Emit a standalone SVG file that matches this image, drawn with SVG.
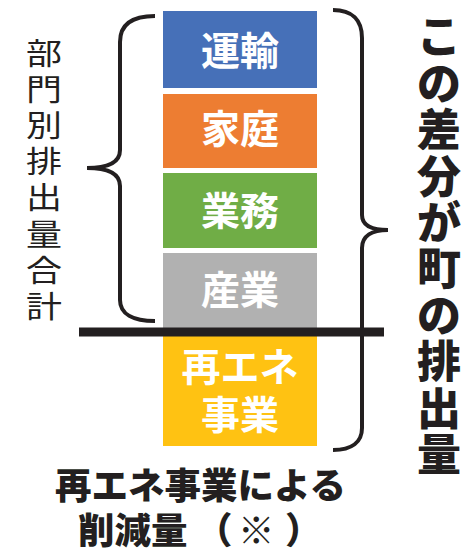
<svg xmlns="http://www.w3.org/2000/svg" width="475" height="554" viewBox="0 0 475 554">
<style>
.lbl{font-family:"Noto Sans CJK JP","Noto Sans",sans-serif;font-weight:bold;font-size:39px;fill:#fff;text-anchor:middle}
.vr{font-family:"Noto Sans CJK JP","Noto Sans",sans-serif;font-weight:900;font-size:44px;fill:#231F20;text-anchor:middle}
.vl{font-family:"Noto Sans CJK JP","Noto Sans",sans-serif;font-weight:normal;font-size:30px;fill:#231F20;text-anchor:middle}
.bt{font-family:"Noto Sans CJK JP","Noto Sans",sans-serif;font-weight:900;font-size:36.5px;fill:#231F20}
.brace{fill:none;stroke:#231F20;stroke-width:4;stroke-linecap:butt}
</style>
<rect width="475" height="554" fill="#fff"/>
<g id="transport"><rect x="163" y="11" width="154" height="77" fill="#4670B8"/><text class="lbl" x="240" y="65">運輸</text></g>
<g id="household"><rect x="163" y="94" width="154" height="74" fill="#ED7D32"/><text class="lbl" x="240" y="142.5">家庭</text></g>
<g id="business"><rect x="163" y="173" width="154" height="75" fill="#70AD46"/><text class="lbl" x="240" y="224.5">業務</text></g>
<g id="industry"><rect x="163" y="253" width="154" height="75" fill="#B1B1B1"/><text class="lbl" x="240" y="304">産業</text></g>
<g id="renewable"><rect x="163" y="335" width="154" height="111" fill="#FFC212"/><text class="lbl" x="240" y="380.5">再エネ</text><text class="lbl" x="240" y="429">事業</text></g>
<g id="connectors">
<path class="brace" d="M155 16 C133 16 120 24 120 42 L120 150 C120 162 110 168 87 168 C110 168 120 174 120 186 L120 300 C120 314 133 321 155 321"/>
<path class="brace" d="M333 10 C352 10 362 20 362 38 L362 215 C362 226 372 230 388 230 C372 230 362 236 362 248 L362 428 C362 442 352 450 333 450"/>
<line x1="79" y1="332" x2="384" y2="332" stroke="#231F20" stroke-width="9"/>
</g>
<g id="left-label">
<text class="vl" transform="translate(44,63.5) scale(1.2,1)">部</text>
<text class="vl" transform="translate(44,99.7) scale(1.2,1)">門</text>
<text class="vl" transform="translate(44,135.9) scale(1.2,1)">別</text>
<text class="vl" transform="translate(44,172.1) scale(1.2,1)">排</text>
<text class="vl" transform="translate(44,208.3) scale(1.2,1)">出</text>
<text class="vl" transform="translate(44,244.5) scale(1.2,1)">量</text>
<text class="vl" transform="translate(44,280.7) scale(1.2,1)">合</text>
<text class="vl" transform="translate(44,316.9) scale(1.2,1)">計</text>
</g>
<g id="right-label">
<text class="vr" x="439" y="53.3">こ</text>
<text class="vr" x="439" y="99.7">の</text>
<text class="vr" x="439" y="146.1">差</text>
<text class="vr" x="439" y="192.5">分</text>
<text class="vr" x="439" y="238.9">が</text>
<text class="vr" x="439" y="285.3">町</text>
<text class="vr" x="439" y="331.7">の</text>
<text class="vr" x="439" y="378.1">排</text>
<text class="vr" x="439" y="424.5">出</text>
<text class="vr" x="439" y="470.9">量</text>
</g>
<g id="bottom-label">
<text class="bt" x="55" y="499">再エネ事業による</text>
<text class="bt" y="544"><tspan x="78">削減量</tspan><tspan x="196">（</tspan><tspan x="238">※</tspan><tspan x="285">）</tspan></text>
</g>
</svg>
